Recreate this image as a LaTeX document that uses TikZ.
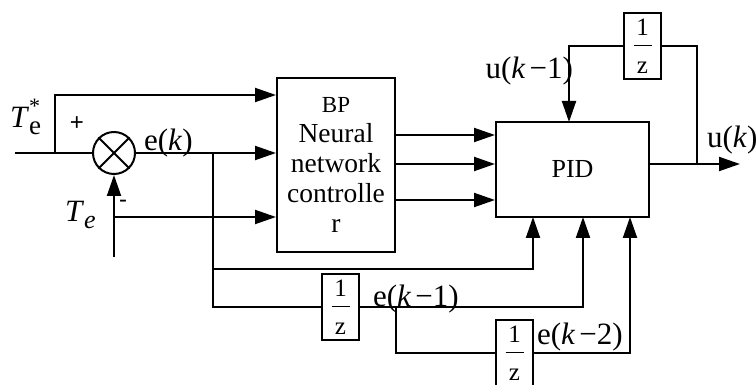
\documentclass[tikz,border=0pt]{standalone}
\usepackage{fontspec}
\setmainfont{Liberation Serif}
\newfontfamily\sansf{Liberation Sans}
\usetikzlibrary{arrows.meta,calc}
\begin{document}
\begin{tikzpicture}[x=1pt,y=-1pt,
  line width=2pt,
  arr/.style={-{Triangle[length=21pt,width=14pt]}},
  blk/.style={draw,line width=2pt,inner sep=0pt,align=center},
  lbl/.style={inner sep=0pt,font=\fontsize{31}{33}\selectfont},
  sgn/.style={inner sep=0pt,font=\sansf\fontsize{24}{26}\selectfont},
  dly/.style={draw,minimum width=37pt,minimum height=66pt,inner sep=0pt,align=center,font=\fontsize{25}{28}\selectfont},
]
\useasboundingbox (0,0) rectangle (756,385);

% blocks
\node[blk,minimum width=118pt,minimum height=174pt,font=\fontsize{27.5}{30}\selectfont] (bp) at (336,165)
  {{\fontsize{23}{30}\selectfont BP}\\Neural\\network\\controlle\\r};
\node[blk,minimum width=153pt,minimum height=95pt,font=\fontsize{26}{28}\selectfont] (pid) at (572.5,169.5) {PID};
\node[draw,circle,minimum size=42pt,inner sep=0pt] (sum) at (114,153) {};
\draw (sum.45) -- (sum.225) (sum.135) -- (sum.-45);
\node[dly] (d0) at (642.5,46) {1\\[-17pt]\rule{18pt}{1.4pt}\\[-1pt]z};
\node[dly] (d1) at (340.5,307) {1\\[-17pt]\rule{18pt}{1.4pt}\\[-1pt]z};
\node[dly] (d2) at (514.5,353) {1\\[-17pt]\rule{18pt}{1.4pt}\\[-1pt]z};

% coordinates
\coordinate (in) at (15,153);
\coordinate (j1) at (55,153);
\coordinate (ty) at (55,95);
\coordinate (te) at (114,257);
\coordinate (tj) at (114,217);
\coordinate (ej) at (213,153);
\coordinate (ej2) at (213,269);
\coordinate (p1) at (533,217);
\coordinate (p2) at (583,217);
\coordinate (p3) at (630,217);
\coordinate (b2) at (396,307);
\coordinate (p0) at (569,122);
\coordinate (oj) at (697,164);
\coordinate (out) at (740,164);

% connectors
\draw (in) -- (sum.west);
\draw[arr] (j1) -- (ty) -- (ty -| bp.west);
\draw[arr] (sum.east) -- (sum.east -| bp.west);
\draw[arr] (te) -- (sum.south);
\draw[arr] (tj) -- (tj -| bp.west);
\draw (ej) |- (d1.west);
\draw[arr] (ej2) -| (p1);
\draw[arr] (d1.east) -| (p2);
\draw (b2) |- (d2.west);
\draw[arr] (d2.east) -| (p3);
\foreach \d in {-30,-1,35}
  \draw[arr] ($(bp.east)+(0,\d)$) -- ($(bp.east -| pid.west)+(0,\d)$);
\draw[arr] (oj -| pid.east) -- (out);
\draw (oj) |- (d0.east);
\draw[arr] (d0.west) -| (p0);

% labels
\node[lbl,anchor=base west] at (9,128) {\textit{T}\rlap{\raisebox{-7pt}{\fontsize{27}{27}\selectfont e}}\raisebox{14pt}{\fontsize{22}{22}\selectfont *}};
\node[lbl,anchor=base west] at (64,222) {\textit{T}\raisebox{-7pt}{\fontsize{26}{26}\selectfont\itshape e}};
\node[sgn] at (77,124) {+};
\node[sgn] at (123,204) {-};
\node[lbl,anchor=base west] at (143,151) {e(\textit{k})};
\node[lbl,anchor=base east] at (574,79) {u(\textit{k}\kern4pt−1)};
\node[lbl,anchor=base west] at (706,148) {u(\textit{k})};
\node[lbl,anchor=base west] at (372,306) {e(\textit{k}\kern4pt−1)};
\node[lbl,anchor=base west] at (536,344) {e(\textit{k}\kern4pt−2)};
\end{tikzpicture}
\end{document}
